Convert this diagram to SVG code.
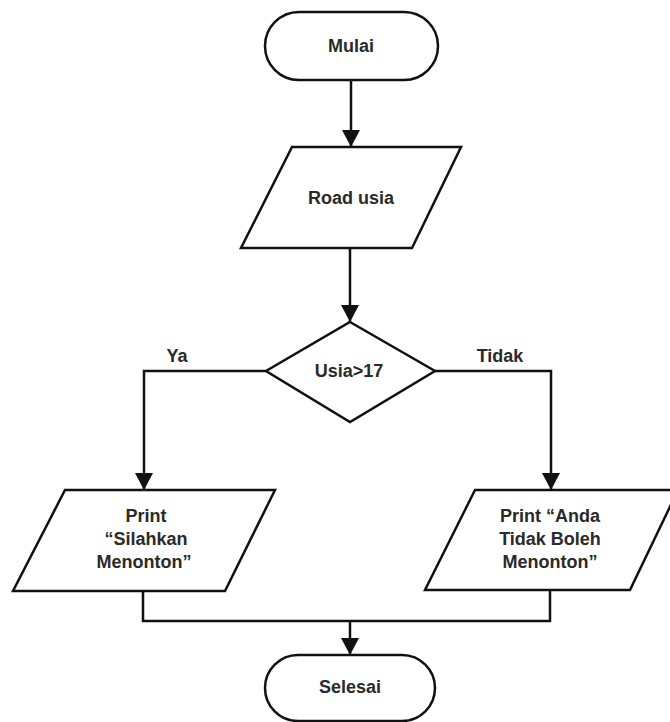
<svg xmlns="http://www.w3.org/2000/svg" width="670" height="722" viewBox="0 0 670 722">
<style>
.shape{fill:#fff;stroke:#111;stroke-width:2.5;stroke-linejoin:miter}
.conn{fill:none;stroke:#111;stroke-width:2.5}
text{font-family:"Liberation Sans",Arial,sans-serif;font-weight:bold;font-size:18px;fill:#2a2a2a;text-anchor:middle}
</style>
<defs>
<marker id="arr" markerUnits="userSpaceOnUse" markerWidth="20" markerHeight="20" viewBox="0 0 20 20" refX="17" refY="10" orient="auto">
<path d="M0,1 L17,10 L0,19 Z" fill="#111"/>
</marker>
</defs>
<rect width="670" height="722" fill="#fff"/>
<g id="connectors">
<path class="conn" d="M351,80 V147" marker-end="url(#arr)"/>
<path class="conn" d="M350,248 V322" marker-end="url(#arr)"/>
<path class="conn" d="M266,371 H144 V490" marker-end="url(#arr)"/>
<path class="conn" d="M435,371 H551 V490" marker-end="url(#arr)"/>
<path class="conn" d="M143,591 V621 H550 V590"/>
<path class="conn" d="M350,621 V655" marker-end="url(#arr)"/>
</g>
<g id="mulai">
<rect class="shape" x="265" y="12" width="173" height="68" rx="34" ry="34"/>
<text x="351" y="52">Mulai</text>
</g>
<g id="read">
<polygon class="shape" points="292,147 461,147 412,248 241,248"/>
<text x="351" y="204">Road usia</text>
</g>
<g id="decision">
<polygon class="shape" points="350,322 435,371 350,422 266,371"/>
<text x="349" y="377">Usia&gt;17</text>
</g>
<g id="label-ya"><text x="177" y="362">Ya</text></g>
<g id="label-tidak"><text x="500" y="362">Tidak</text></g>
<g id="print-ya">
<polygon class="shape" points="65,490 275,490 225,591 13,591"/>
<text x="146" y="522">Print</text>
<text x="146" y="545">“Silahkan</text>
<text x="144" y="568">Menonton”</text>
</g>
<g id="print-tidak">
<polygon class="shape" points="475,490 678,490 630,590 425,590"/>
<text x="550" y="522">Print “Anda</text>
<text x="550" y="545">Tidak Boleh</text>
<text x="550" y="568">Menonton”</text>
</g>
<g id="selesai">
<rect class="shape" x="265" y="655" width="170" height="66" rx="33" ry="33"/>
<text x="350" y="693">Selesai</text>
</g>
</svg>
